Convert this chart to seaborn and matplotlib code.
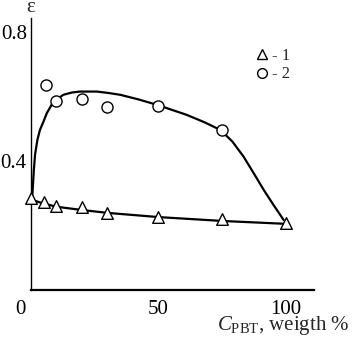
import matplotlib
matplotlib.use("Agg")
import matplotlib.pyplot as plt
import matplotlib.transforms as mtransforms
from matplotlib.lines import Line2D
import seaborn as sns

# measured points, series 1 (triangles) and 2 (circles)
tri_x = [0, 5, 10, 20, 30, 50, 75, 100]
tri_y = [0.284, 0.274, 0.260, 0.256, 0.238, 0.227, 0.219, 0.209]
circ_x = [6, 10, 20, 30, 50, 75]
circ_y = [0.636, 0.587, 0.592, 0.568, 0.571, 0.496]

# hand-drawn fit curves
fit1_x = [0, 5, 10, 20, 30, 50, 75, 100]
fit1_y = [0.280, 0.268, 0.258, 0.248, 0.239, 0.226, 0.214, 0.205]
fit2_x = [0.5, 0.8, 1.1, 1.6, 2.5, 3.5, 5, 6.2, 8.8, 12.7, 16, 19.2, 25.8,
          30, 35, 42, 49.4, 55, 61, 68, 74.3, 79, 83.4, 87.5, 91.3, 95, 99.1]
fit2_y = [0.29, 0.33, 0.37, 0.42, 0.465, 0.496, 0.524, 0.548, 0.584, 0.605,
          0.612, 0.615, 0.615, 0.611, 0.605, 0.591, 0.574, 0.559, 0.543,
          0.520, 0.496, 0.460, 0.413, 0.360, 0.310, 0.265, 0.217]

sns.set_theme(style="white")
plt.rcParams['font.family'] = ['Liberation Serif', 'DejaVu Serif']
plt.rcParams['mathtext.fontset'] = 'custom'
plt.rcParams['mathtext.rm'] = 'Liberation Serif'
plt.rcParams['mathtext.it'] = 'Liberation Serif:italic'

fig = plt.figure(figsize=(3.52, 3.41), dpi=100)
ax = fig.add_axes([31/352, 51/341, 283/352, 272/341])

sns.lineplot(x=fit1_x, y=fit1_y, ax=ax, color='black', lw=1.6, sort=False, estimator=None)
sns.lineplot(x=fit2_x, y=fit2_y, ax=ax, color='black', lw=1.6, sort=False, estimator=None)
sns.scatterplot(x=tri_x, y=tri_y, ax=ax, marker='^', s=70, facecolor='white',
                edgecolor='black', linewidth=1.0, zorder=3, clip_on=False)
sns.scatterplot(x=circ_x, y=circ_y, ax=ax, marker='o', s=64, facecolor='white',
                edgecolor='black', linewidth=1.0, zorder=3)

ax.set_xlim(0, 111)
ax.set_ylim(0, 0.843)
ax.set_xticks([0, 50, 100])
ax.set_xticklabels(['0', '50', '100'])
ax.set_yticks([0.4, 0.8])
ax.set_yticklabels(['0.4', '0.8'])
ax.tick_params(direction='in', length=7, width=1, colors='black', labelsize=15)
ax.tick_params(axis='x', pad=7)
ax.tick_params(axis='y', pad=3)
# the "0" label sits left of the origin in the original
lab0 = ax.get_xticklabels()[0]
lab0.set_transform(lab0.get_transform() + mtransforms.ScaledTranslation(-0.105, 0, fig.dpi_scale_trans))

sns.despine(ax=ax)
ax.spines['left'].set_linewidth(1.0)
ax.spines['bottom'].set_linewidth(1.6)
ax.spines['left'].set_color('black')
ax.spines['bottom'].set_color('black')

fig.text(31/352, 1 - 12/341, 'ε', ha='center', va='baseline', fontsize=15)
fig.text(349/352, 11/341, r'$C_{\rm PBT}$, weigth %', ha='right', va='baseline', fontsize=15)

handles = [Line2D([], [], ls='none', marker='^', ms=7, mfc='white', mec='black', mew=1),
           Line2D([], [], ls='none', marker='o', ms=7, mfc='white', mec='black', mew=1)]
ax.legend(handles, ['- 1', '- 2'], loc='upper left', bbox_to_anchor=(255/352, 1 - 48/341),
          bbox_transform=fig.transFigure, frameon=False, fontsize=12, handlelength=0.8,
          handletextpad=0.2, labelspacing=0.15, borderpad=0, borderaxespad=0)

fig.savefig('out.png', dpi=100)
